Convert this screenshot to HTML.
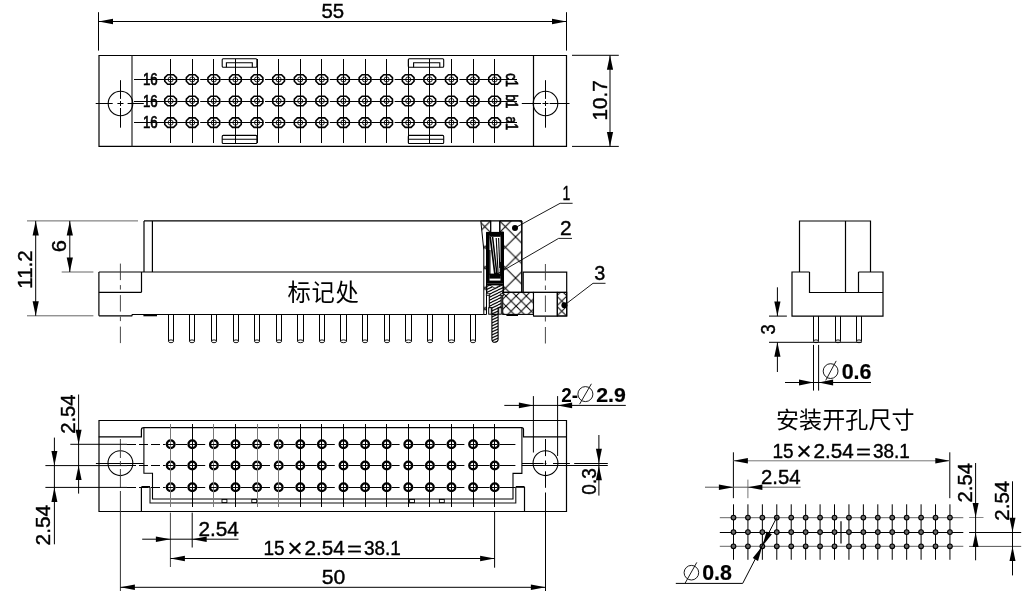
<!DOCTYPE html>
<html><head><meta charset="utf-8"><title>drawing</title>
<style>html,body{margin:0;padding:0;background:#fff;overflow:hidden}svg{display:block;filter:grayscale(1)}text{font-family:"Liberation Sans",sans-serif;fill:#000}</style>
</head><body>
<svg width="1029" height="591" viewBox="0 0 1029 591">
<rect x="0" y="0" width="1029" height="591" fill="#fff"/>
<polyline points="99,55.5 566.5,55.5 566.5,146.4 99,146.4 99,55" stroke="#000" stroke-width="1.2" fill="none" />
<line x1="132" y1="55.5" x2="132" y2="146.4" stroke="#222" stroke-width="1.2" />
<line x1="533.5" y1="55.5" x2="533.5" y2="146.4" stroke="#000" stroke-width="1.2" />
<polygon points="167.65,74.7 173.55,74.7 176.45,77.6 176.45,81.3 173.55,84.2 167.65,84.2 164.75,81.3 164.75,77.6" fill="#fff" stroke="#000" stroke-width="1.6" stroke-linejoin="round"/>
<circle cx="170.6" cy="79.45" r="2.55" stroke="#000" stroke-width="0.85" fill="none"/>
<polygon points="189.25,74.7 195.15,74.7 198.05,77.6 198.05,81.3 195.15,84.2 189.25,84.2 186.35,81.3 186.35,77.6" fill="#fff" stroke="#000" stroke-width="1.6" stroke-linejoin="round"/>
<circle cx="192.2" cy="79.45" r="2.55" stroke="#000" stroke-width="0.85" fill="none"/>
<polygon points="210.85,74.7 216.75,74.7 219.65,77.6 219.65,81.3 216.75,84.2 210.85,84.2 207.95,81.3 207.95,77.6" fill="#fff" stroke="#000" stroke-width="1.6" stroke-linejoin="round"/>
<circle cx="213.8" cy="79.45" r="2.55" stroke="#000" stroke-width="0.85" fill="none"/>
<polygon points="232.45,74.7 238.35,74.7 241.25,77.6 241.25,81.3 238.35,84.2 232.45,84.2 229.55,81.3 229.55,77.6" fill="#fff" stroke="#000" stroke-width="1.6" stroke-linejoin="round"/>
<circle cx="235.4" cy="79.45" r="2.55" stroke="#000" stroke-width="0.85" fill="none"/>
<polygon points="254.05,74.7 259.95,74.7 262.85,77.6 262.85,81.3 259.95,84.2 254.05,84.2 251.15,81.3 251.15,77.6" fill="#fff" stroke="#000" stroke-width="1.6" stroke-linejoin="round"/>
<circle cx="257" cy="79.45" r="2.55" stroke="#000" stroke-width="0.85" fill="none"/>
<polygon points="275.65,74.7 281.55,74.7 284.45,77.6 284.45,81.3 281.55,84.2 275.65,84.2 272.75,81.3 272.75,77.6" fill="#fff" stroke="#000" stroke-width="1.6" stroke-linejoin="round"/>
<circle cx="278.6" cy="79.45" r="2.55" stroke="#000" stroke-width="0.85" fill="none"/>
<polygon points="297.25,74.7 303.15,74.7 306.05,77.6 306.05,81.3 303.15,84.2 297.25,84.2 294.35,81.3 294.35,77.6" fill="#fff" stroke="#000" stroke-width="1.6" stroke-linejoin="round"/>
<circle cx="300.2" cy="79.45" r="2.55" stroke="#000" stroke-width="0.85" fill="none"/>
<polygon points="318.85,74.7 324.75,74.7 327.65,77.6 327.65,81.3 324.75,84.2 318.85,84.2 315.95,81.3 315.95,77.6" fill="#fff" stroke="#000" stroke-width="1.6" stroke-linejoin="round"/>
<circle cx="321.8" cy="79.45" r="2.55" stroke="#000" stroke-width="0.85" fill="none"/>
<polygon points="340.45,74.7 346.35,74.7 349.25,77.6 349.25,81.3 346.35,84.2 340.45,84.2 337.55,81.3 337.55,77.6" fill="#fff" stroke="#000" stroke-width="1.6" stroke-linejoin="round"/>
<circle cx="343.4" cy="79.45" r="2.55" stroke="#000" stroke-width="0.85" fill="none"/>
<polygon points="362.05,74.7 367.95,74.7 370.85,77.6 370.85,81.3 367.95,84.2 362.05,84.2 359.15,81.3 359.15,77.6" fill="#fff" stroke="#000" stroke-width="1.6" stroke-linejoin="round"/>
<circle cx="365" cy="79.45" r="2.55" stroke="#000" stroke-width="0.85" fill="none"/>
<polygon points="383.65,74.7 389.55,74.7 392.45,77.6 392.45,81.3 389.55,84.2 383.65,84.2 380.75,81.3 380.75,77.6" fill="#fff" stroke="#000" stroke-width="1.6" stroke-linejoin="round"/>
<circle cx="386.6" cy="79.45" r="2.55" stroke="#000" stroke-width="0.85" fill="none"/>
<polygon points="405.25,74.7 411.15,74.7 414.05,77.6 414.05,81.3 411.15,84.2 405.25,84.2 402.35,81.3 402.35,77.6" fill="#fff" stroke="#000" stroke-width="1.6" stroke-linejoin="round"/>
<circle cx="408.2" cy="79.45" r="2.55" stroke="#000" stroke-width="0.85" fill="none"/>
<polygon points="426.85,74.7 432.75,74.7 435.65,77.6 435.65,81.3 432.75,84.2 426.85,84.2 423.95,81.3 423.95,77.6" fill="#fff" stroke="#000" stroke-width="1.6" stroke-linejoin="round"/>
<circle cx="429.8" cy="79.45" r="2.55" stroke="#000" stroke-width="0.85" fill="none"/>
<polygon points="448.45,74.7 454.35,74.7 457.25,77.6 457.25,81.3 454.35,84.2 448.45,84.2 445.55,81.3 445.55,77.6" fill="#fff" stroke="#000" stroke-width="1.6" stroke-linejoin="round"/>
<circle cx="451.4" cy="79.45" r="2.55" stroke="#000" stroke-width="0.85" fill="none"/>
<polygon points="470.05,74.7 475.95,74.7 478.85,77.6 478.85,81.3 475.95,84.2 470.05,84.2 467.15,81.3 467.15,77.6" fill="#fff" stroke="#000" stroke-width="1.6" stroke-linejoin="round"/>
<circle cx="473" cy="79.45" r="2.55" stroke="#000" stroke-width="0.85" fill="none"/>
<polygon points="491.65,74.7 497.55,74.7 500.45,77.6 500.45,81.3 497.55,84.2 491.65,84.2 488.75,81.3 488.75,77.6" fill="#fff" stroke="#000" stroke-width="1.6" stroke-linejoin="round"/>
<circle cx="494.6" cy="79.45" r="2.55" stroke="#000" stroke-width="0.85" fill="none"/>
<polygon points="167.65,96.25 173.55,96.25 176.45,99.15 176.45,102.85 173.55,105.75 167.65,105.75 164.75,102.85 164.75,99.15" fill="#fff" stroke="#000" stroke-width="1.6" stroke-linejoin="round"/>
<circle cx="170.6" cy="101" r="2.55" stroke="#000" stroke-width="0.85" fill="none"/>
<polygon points="189.25,96.25 195.15,96.25 198.05,99.15 198.05,102.85 195.15,105.75 189.25,105.75 186.35,102.85 186.35,99.15" fill="#fff" stroke="#000" stroke-width="1.6" stroke-linejoin="round"/>
<circle cx="192.2" cy="101" r="2.55" stroke="#000" stroke-width="0.85" fill="none"/>
<polygon points="210.85,96.25 216.75,96.25 219.65,99.15 219.65,102.85 216.75,105.75 210.85,105.75 207.95,102.85 207.95,99.15" fill="#fff" stroke="#000" stroke-width="1.6" stroke-linejoin="round"/>
<circle cx="213.8" cy="101" r="2.55" stroke="#000" stroke-width="0.85" fill="none"/>
<polygon points="232.45,96.25 238.35,96.25 241.25,99.15 241.25,102.85 238.35,105.75 232.45,105.75 229.55,102.85 229.55,99.15" fill="#fff" stroke="#000" stroke-width="1.6" stroke-linejoin="round"/>
<circle cx="235.4" cy="101" r="2.55" stroke="#000" stroke-width="0.85" fill="none"/>
<polygon points="254.05,96.25 259.95,96.25 262.85,99.15 262.85,102.85 259.95,105.75 254.05,105.75 251.15,102.85 251.15,99.15" fill="#fff" stroke="#000" stroke-width="1.6" stroke-linejoin="round"/>
<circle cx="257" cy="101" r="2.55" stroke="#000" stroke-width="0.85" fill="none"/>
<polygon points="275.65,96.25 281.55,96.25 284.45,99.15 284.45,102.85 281.55,105.75 275.65,105.75 272.75,102.85 272.75,99.15" fill="#fff" stroke="#000" stroke-width="1.6" stroke-linejoin="round"/>
<circle cx="278.6" cy="101" r="2.55" stroke="#000" stroke-width="0.85" fill="none"/>
<polygon points="297.25,96.25 303.15,96.25 306.05,99.15 306.05,102.85 303.15,105.75 297.25,105.75 294.35,102.85 294.35,99.15" fill="#fff" stroke="#000" stroke-width="1.6" stroke-linejoin="round"/>
<circle cx="300.2" cy="101" r="2.55" stroke="#000" stroke-width="0.85" fill="none"/>
<polygon points="318.85,96.25 324.75,96.25 327.65,99.15 327.65,102.85 324.75,105.75 318.85,105.75 315.95,102.85 315.95,99.15" fill="#fff" stroke="#000" stroke-width="1.6" stroke-linejoin="round"/>
<circle cx="321.8" cy="101" r="2.55" stroke="#000" stroke-width="0.85" fill="none"/>
<polygon points="340.45,96.25 346.35,96.25 349.25,99.15 349.25,102.85 346.35,105.75 340.45,105.75 337.55,102.85 337.55,99.15" fill="#fff" stroke="#000" stroke-width="1.6" stroke-linejoin="round"/>
<circle cx="343.4" cy="101" r="2.55" stroke="#000" stroke-width="0.85" fill="none"/>
<polygon points="362.05,96.25 367.95,96.25 370.85,99.15 370.85,102.85 367.95,105.75 362.05,105.75 359.15,102.85 359.15,99.15" fill="#fff" stroke="#000" stroke-width="1.6" stroke-linejoin="round"/>
<circle cx="365" cy="101" r="2.55" stroke="#000" stroke-width="0.85" fill="none"/>
<polygon points="383.65,96.25 389.55,96.25 392.45,99.15 392.45,102.85 389.55,105.75 383.65,105.75 380.75,102.85 380.75,99.15" fill="#fff" stroke="#000" stroke-width="1.6" stroke-linejoin="round"/>
<circle cx="386.6" cy="101" r="2.55" stroke="#000" stroke-width="0.85" fill="none"/>
<polygon points="405.25,96.25 411.15,96.25 414.05,99.15 414.05,102.85 411.15,105.75 405.25,105.75 402.35,102.85 402.35,99.15" fill="#fff" stroke="#000" stroke-width="1.6" stroke-linejoin="round"/>
<circle cx="408.2" cy="101" r="2.55" stroke="#000" stroke-width="0.85" fill="none"/>
<polygon points="426.85,96.25 432.75,96.25 435.65,99.15 435.65,102.85 432.75,105.75 426.85,105.75 423.95,102.85 423.95,99.15" fill="#fff" stroke="#000" stroke-width="1.6" stroke-linejoin="round"/>
<circle cx="429.8" cy="101" r="2.55" stroke="#000" stroke-width="0.85" fill="none"/>
<polygon points="448.45,96.25 454.35,96.25 457.25,99.15 457.25,102.85 454.35,105.75 448.45,105.75 445.55,102.85 445.55,99.15" fill="#fff" stroke="#000" stroke-width="1.6" stroke-linejoin="round"/>
<circle cx="451.4" cy="101" r="2.55" stroke="#000" stroke-width="0.85" fill="none"/>
<polygon points="470.05,96.25 475.95,96.25 478.85,99.15 478.85,102.85 475.95,105.75 470.05,105.75 467.15,102.85 467.15,99.15" fill="#fff" stroke="#000" stroke-width="1.6" stroke-linejoin="round"/>
<circle cx="473" cy="101" r="2.55" stroke="#000" stroke-width="0.85" fill="none"/>
<polygon points="491.65,96.25 497.55,96.25 500.45,99.15 500.45,102.85 497.55,105.75 491.65,105.75 488.75,102.85 488.75,99.15" fill="#fff" stroke="#000" stroke-width="1.6" stroke-linejoin="round"/>
<circle cx="494.6" cy="101" r="2.55" stroke="#000" stroke-width="0.85" fill="none"/>
<polygon points="167.65,117.85 173.55,117.85 176.45,120.75 176.45,124.45 173.55,127.35 167.65,127.35 164.75,124.45 164.75,120.75" fill="#fff" stroke="#000" stroke-width="1.6" stroke-linejoin="round"/>
<circle cx="170.6" cy="122.6" r="2.55" stroke="#000" stroke-width="0.85" fill="none"/>
<polygon points="189.25,117.85 195.15,117.85 198.05,120.75 198.05,124.45 195.15,127.35 189.25,127.35 186.35,124.45 186.35,120.75" fill="#fff" stroke="#000" stroke-width="1.6" stroke-linejoin="round"/>
<circle cx="192.2" cy="122.6" r="2.55" stroke="#000" stroke-width="0.85" fill="none"/>
<polygon points="210.85,117.85 216.75,117.85 219.65,120.75 219.65,124.45 216.75,127.35 210.85,127.35 207.95,124.45 207.95,120.75" fill="#fff" stroke="#000" stroke-width="1.6" stroke-linejoin="round"/>
<circle cx="213.8" cy="122.6" r="2.55" stroke="#000" stroke-width="0.85" fill="none"/>
<polygon points="232.45,117.85 238.35,117.85 241.25,120.75 241.25,124.45 238.35,127.35 232.45,127.35 229.55,124.45 229.55,120.75" fill="#fff" stroke="#000" stroke-width="1.6" stroke-linejoin="round"/>
<circle cx="235.4" cy="122.6" r="2.55" stroke="#000" stroke-width="0.85" fill="none"/>
<polygon points="254.05,117.85 259.95,117.85 262.85,120.75 262.85,124.45 259.95,127.35 254.05,127.35 251.15,124.45 251.15,120.75" fill="#fff" stroke="#000" stroke-width="1.6" stroke-linejoin="round"/>
<circle cx="257" cy="122.6" r="2.55" stroke="#000" stroke-width="0.85" fill="none"/>
<polygon points="275.65,117.85 281.55,117.85 284.45,120.75 284.45,124.45 281.55,127.35 275.65,127.35 272.75,124.45 272.75,120.75" fill="#fff" stroke="#000" stroke-width="1.6" stroke-linejoin="round"/>
<circle cx="278.6" cy="122.6" r="2.55" stroke="#000" stroke-width="0.85" fill="none"/>
<polygon points="297.25,117.85 303.15,117.85 306.05,120.75 306.05,124.45 303.15,127.35 297.25,127.35 294.35,124.45 294.35,120.75" fill="#fff" stroke="#000" stroke-width="1.6" stroke-linejoin="round"/>
<circle cx="300.2" cy="122.6" r="2.55" stroke="#000" stroke-width="0.85" fill="none"/>
<polygon points="318.85,117.85 324.75,117.85 327.65,120.75 327.65,124.45 324.75,127.35 318.85,127.35 315.95,124.45 315.95,120.75" fill="#fff" stroke="#000" stroke-width="1.6" stroke-linejoin="round"/>
<circle cx="321.8" cy="122.6" r="2.55" stroke="#000" stroke-width="0.85" fill="none"/>
<polygon points="340.45,117.85 346.35,117.85 349.25,120.75 349.25,124.45 346.35,127.35 340.45,127.35 337.55,124.45 337.55,120.75" fill="#fff" stroke="#000" stroke-width="1.6" stroke-linejoin="round"/>
<circle cx="343.4" cy="122.6" r="2.55" stroke="#000" stroke-width="0.85" fill="none"/>
<polygon points="362.05,117.85 367.95,117.85 370.85,120.75 370.85,124.45 367.95,127.35 362.05,127.35 359.15,124.45 359.15,120.75" fill="#fff" stroke="#000" stroke-width="1.6" stroke-linejoin="round"/>
<circle cx="365" cy="122.6" r="2.55" stroke="#000" stroke-width="0.85" fill="none"/>
<polygon points="383.65,117.85 389.55,117.85 392.45,120.75 392.45,124.45 389.55,127.35 383.65,127.35 380.75,124.45 380.75,120.75" fill="#fff" stroke="#000" stroke-width="1.6" stroke-linejoin="round"/>
<circle cx="386.6" cy="122.6" r="2.55" stroke="#000" stroke-width="0.85" fill="none"/>
<polygon points="405.25,117.85 411.15,117.85 414.05,120.75 414.05,124.45 411.15,127.35 405.25,127.35 402.35,124.45 402.35,120.75" fill="#fff" stroke="#000" stroke-width="1.6" stroke-linejoin="round"/>
<circle cx="408.2" cy="122.6" r="2.55" stroke="#000" stroke-width="0.85" fill="none"/>
<polygon points="426.85,117.85 432.75,117.85 435.65,120.75 435.65,124.45 432.75,127.35 426.85,127.35 423.95,124.45 423.95,120.75" fill="#fff" stroke="#000" stroke-width="1.6" stroke-linejoin="round"/>
<circle cx="429.8" cy="122.6" r="2.55" stroke="#000" stroke-width="0.85" fill="none"/>
<polygon points="448.45,117.85 454.35,117.85 457.25,120.75 457.25,124.45 454.35,127.35 448.45,127.35 445.55,124.45 445.55,120.75" fill="#fff" stroke="#000" stroke-width="1.6" stroke-linejoin="round"/>
<circle cx="451.4" cy="122.6" r="2.55" stroke="#000" stroke-width="0.85" fill="none"/>
<polygon points="470.05,117.85 475.95,117.85 478.85,120.75 478.85,124.45 475.95,127.35 470.05,127.35 467.15,124.45 467.15,120.75" fill="#fff" stroke="#000" stroke-width="1.6" stroke-linejoin="round"/>
<circle cx="473" cy="122.6" r="2.55" stroke="#000" stroke-width="0.85" fill="none"/>
<polygon points="491.65,117.85 497.55,117.85 500.45,120.75 500.45,124.45 497.55,127.35 491.65,127.35 488.75,124.45 488.75,120.75" fill="#fff" stroke="#000" stroke-width="1.6" stroke-linejoin="round"/>
<circle cx="494.6" cy="122.6" r="2.55" stroke="#000" stroke-width="0.85" fill="none"/>
<line x1="170.5" y1="59" x2="170.5" y2="143" stroke="#000" stroke-width="1" />
<line x1="192.5" y1="59" x2="192.5" y2="143" stroke="#000" stroke-width="1" />
<line x1="213.5" y1="59" x2="213.5" y2="143" stroke="#000" stroke-width="1" />
<line x1="235.5" y1="59" x2="235.5" y2="143" stroke="#000" stroke-width="1" />
<line x1="257.5" y1="59" x2="257.5" y2="143" stroke="#000" stroke-width="1" />
<line x1="278.5" y1="59" x2="278.5" y2="143" stroke="#000" stroke-width="1" />
<line x1="300.5" y1="59" x2="300.5" y2="143" stroke="#000" stroke-width="1" />
<line x1="321.5" y1="59" x2="321.5" y2="143" stroke="#000" stroke-width="1" />
<line x1="343.5" y1="59" x2="343.5" y2="143" stroke="#000" stroke-width="1" />
<line x1="365.5" y1="59" x2="365.5" y2="143" stroke="#000" stroke-width="1" />
<line x1="386.5" y1="59" x2="386.5" y2="143" stroke="#000" stroke-width="1" />
<line x1="408.5" y1="59" x2="408.5" y2="143" stroke="#000" stroke-width="1" />
<line x1="429.5" y1="59" x2="429.5" y2="143" stroke="#000" stroke-width="1" />
<line x1="451.5" y1="59" x2="451.5" y2="143" stroke="#000" stroke-width="1" />
<line x1="473.5" y1="59" x2="473.5" y2="143" stroke="#000" stroke-width="1" />
<line x1="494.5" y1="59" x2="494.5" y2="143" stroke="#000" stroke-width="1" />
<line x1="134" y1="79.5" x2="170.5" y2="79.5" stroke="#000" stroke-width="1" />
<line x1="164.6" y1="79.5" x2="177.2" y2="79.5" stroke="#000" stroke-width="1" />
<line x1="177.2" y1="79.5" x2="186.2" y2="79.5" stroke="#000" stroke-width="1" />
<line x1="186.2" y1="79.5" x2="198.8" y2="79.5" stroke="#000" stroke-width="1" />
<line x1="200.2" y1="79.5" x2="207.8" y2="79.5" stroke="#000" stroke-width="1" />
<line x1="207.8" y1="79.5" x2="220.4" y2="79.5" stroke="#000" stroke-width="1" />
<line x1="220.4" y1="79.5" x2="229.4" y2="79.5" stroke="#000" stroke-width="1" />
<line x1="229.4" y1="79.5" x2="242" y2="79.5" stroke="#000" stroke-width="1" />
<line x1="242" y1="79.5" x2="251" y2="79.5" stroke="#000" stroke-width="1" />
<line x1="251" y1="79.5" x2="263.6" y2="79.5" stroke="#000" stroke-width="1" />
<line x1="265" y1="79.5" x2="272.6" y2="79.5" stroke="#000" stroke-width="1" />
<line x1="272.6" y1="79.5" x2="285.2" y2="79.5" stroke="#000" stroke-width="1" />
<line x1="285.2" y1="79.5" x2="294.2" y2="79.5" stroke="#000" stroke-width="1" />
<line x1="294.2" y1="79.5" x2="306.8" y2="79.5" stroke="#000" stroke-width="1" />
<line x1="306.8" y1="79.5" x2="315.8" y2="79.5" stroke="#000" stroke-width="1" />
<line x1="315.8" y1="79.5" x2="328.4" y2="79.5" stroke="#000" stroke-width="1" />
<line x1="329.8" y1="79.5" x2="337.4" y2="79.5" stroke="#000" stroke-width="1" />
<line x1="337.4" y1="79.5" x2="350" y2="79.5" stroke="#000" stroke-width="1" />
<line x1="350" y1="79.5" x2="359" y2="79.5" stroke="#000" stroke-width="1" />
<line x1="359" y1="79.5" x2="371.6" y2="79.5" stroke="#000" stroke-width="1" />
<line x1="371.6" y1="79.5" x2="380.6" y2="79.5" stroke="#000" stroke-width="1" />
<line x1="380.6" y1="79.5" x2="393.2" y2="79.5" stroke="#000" stroke-width="1" />
<line x1="394.6" y1="79.5" x2="402.2" y2="79.5" stroke="#000" stroke-width="1" />
<line x1="402.2" y1="79.5" x2="414.8" y2="79.5" stroke="#000" stroke-width="1" />
<line x1="414.8" y1="79.5" x2="423.8" y2="79.5" stroke="#000" stroke-width="1" />
<line x1="423.8" y1="79.5" x2="436.4" y2="79.5" stroke="#000" stroke-width="1" />
<line x1="436.4" y1="79.5" x2="445.4" y2="79.5" stroke="#000" stroke-width="1" />
<line x1="445.4" y1="79.5" x2="458" y2="79.5" stroke="#000" stroke-width="1" />
<line x1="459.4" y1="79.5" x2="467" y2="79.5" stroke="#000" stroke-width="1" />
<line x1="467" y1="79.5" x2="479.6" y2="79.5" stroke="#000" stroke-width="1" />
<line x1="479.6" y1="79.5" x2="488.6" y2="79.5" stroke="#000" stroke-width="1" />
<line x1="488.6" y1="79.5" x2="501.2" y2="79.5" stroke="#000" stroke-width="1" />
<line x1="494.6" y1="79.5" x2="517" y2="79.5" stroke="#000" stroke-width="1" />
<line x1="134" y1="101.5" x2="170.5" y2="101.5" stroke="#000" stroke-width="1" />
<line x1="164.6" y1="101.5" x2="177.2" y2="101.5" stroke="#000" stroke-width="1" />
<line x1="177.2" y1="101.5" x2="186.2" y2="101.5" stroke="#000" stroke-width="1" />
<line x1="186.2" y1="101.5" x2="198.8" y2="101.5" stroke="#000" stroke-width="1" />
<line x1="200.2" y1="101.5" x2="207.8" y2="101.5" stroke="#000" stroke-width="1" />
<line x1="207.8" y1="101.5" x2="220.4" y2="101.5" stroke="#000" stroke-width="1" />
<line x1="220.4" y1="101.5" x2="229.4" y2="101.5" stroke="#000" stroke-width="1" />
<line x1="229.4" y1="101.5" x2="242" y2="101.5" stroke="#000" stroke-width="1" />
<line x1="242" y1="101.5" x2="251" y2="101.5" stroke="#000" stroke-width="1" />
<line x1="251" y1="101.5" x2="263.6" y2="101.5" stroke="#000" stroke-width="1" />
<line x1="265" y1="101.5" x2="272.6" y2="101.5" stroke="#000" stroke-width="1" />
<line x1="272.6" y1="101.5" x2="285.2" y2="101.5" stroke="#000" stroke-width="1" />
<line x1="285.2" y1="101.5" x2="294.2" y2="101.5" stroke="#000" stroke-width="1" />
<line x1="294.2" y1="101.5" x2="306.8" y2="101.5" stroke="#000" stroke-width="1" />
<line x1="306.8" y1="101.5" x2="315.8" y2="101.5" stroke="#000" stroke-width="1" />
<line x1="315.8" y1="101.5" x2="328.4" y2="101.5" stroke="#000" stroke-width="1" />
<line x1="329.8" y1="101.5" x2="337.4" y2="101.5" stroke="#000" stroke-width="1" />
<line x1="337.4" y1="101.5" x2="350" y2="101.5" stroke="#000" stroke-width="1" />
<line x1="350" y1="101.5" x2="359" y2="101.5" stroke="#000" stroke-width="1" />
<line x1="359" y1="101.5" x2="371.6" y2="101.5" stroke="#000" stroke-width="1" />
<line x1="371.6" y1="101.5" x2="380.6" y2="101.5" stroke="#000" stroke-width="1" />
<line x1="380.6" y1="101.5" x2="393.2" y2="101.5" stroke="#000" stroke-width="1" />
<line x1="394.6" y1="101.5" x2="402.2" y2="101.5" stroke="#000" stroke-width="1" />
<line x1="402.2" y1="101.5" x2="414.8" y2="101.5" stroke="#000" stroke-width="1" />
<line x1="414.8" y1="101.5" x2="423.8" y2="101.5" stroke="#000" stroke-width="1" />
<line x1="423.8" y1="101.5" x2="436.4" y2="101.5" stroke="#000" stroke-width="1" />
<line x1="436.4" y1="101.5" x2="445.4" y2="101.5" stroke="#000" stroke-width="1" />
<line x1="445.4" y1="101.5" x2="458" y2="101.5" stroke="#000" stroke-width="1" />
<line x1="459.4" y1="101.5" x2="467" y2="101.5" stroke="#000" stroke-width="1" />
<line x1="467" y1="101.5" x2="479.6" y2="101.5" stroke="#000" stroke-width="1" />
<line x1="479.6" y1="101.5" x2="488.6" y2="101.5" stroke="#000" stroke-width="1" />
<line x1="488.6" y1="101.5" x2="501.2" y2="101.5" stroke="#000" stroke-width="1" />
<line x1="494.6" y1="101.5" x2="517" y2="101.5" stroke="#000" stroke-width="1" />
<line x1="134" y1="122.5" x2="170.5" y2="122.5" stroke="#000" stroke-width="1" />
<line x1="164.6" y1="122.5" x2="177.2" y2="122.5" stroke="#000" stroke-width="1" />
<line x1="177.2" y1="122.5" x2="186.2" y2="122.5" stroke="#000" stroke-width="1" />
<line x1="186.2" y1="122.5" x2="198.8" y2="122.5" stroke="#000" stroke-width="1" />
<line x1="200.2" y1="122.5" x2="207.8" y2="122.5" stroke="#000" stroke-width="1" />
<line x1="207.8" y1="122.5" x2="220.4" y2="122.5" stroke="#000" stroke-width="1" />
<line x1="220.4" y1="122.5" x2="229.4" y2="122.5" stroke="#000" stroke-width="1" />
<line x1="229.4" y1="122.5" x2="242" y2="122.5" stroke="#000" stroke-width="1" />
<line x1="242" y1="122.5" x2="251" y2="122.5" stroke="#000" stroke-width="1" />
<line x1="251" y1="122.5" x2="263.6" y2="122.5" stroke="#000" stroke-width="1" />
<line x1="265" y1="122.5" x2="272.6" y2="122.5" stroke="#000" stroke-width="1" />
<line x1="272.6" y1="122.5" x2="285.2" y2="122.5" stroke="#000" stroke-width="1" />
<line x1="285.2" y1="122.5" x2="294.2" y2="122.5" stroke="#000" stroke-width="1" />
<line x1="294.2" y1="122.5" x2="306.8" y2="122.5" stroke="#000" stroke-width="1" />
<line x1="306.8" y1="122.5" x2="315.8" y2="122.5" stroke="#000" stroke-width="1" />
<line x1="315.8" y1="122.5" x2="328.4" y2="122.5" stroke="#000" stroke-width="1" />
<line x1="329.8" y1="122.5" x2="337.4" y2="122.5" stroke="#000" stroke-width="1" />
<line x1="337.4" y1="122.5" x2="350" y2="122.5" stroke="#000" stroke-width="1" />
<line x1="350" y1="122.5" x2="359" y2="122.5" stroke="#000" stroke-width="1" />
<line x1="359" y1="122.5" x2="371.6" y2="122.5" stroke="#000" stroke-width="1" />
<line x1="371.6" y1="122.5" x2="380.6" y2="122.5" stroke="#000" stroke-width="1" />
<line x1="380.6" y1="122.5" x2="393.2" y2="122.5" stroke="#000" stroke-width="1" />
<line x1="394.6" y1="122.5" x2="402.2" y2="122.5" stroke="#000" stroke-width="1" />
<line x1="402.2" y1="122.5" x2="414.8" y2="122.5" stroke="#000" stroke-width="1" />
<line x1="414.8" y1="122.5" x2="423.8" y2="122.5" stroke="#000" stroke-width="1" />
<line x1="423.8" y1="122.5" x2="436.4" y2="122.5" stroke="#000" stroke-width="1" />
<line x1="436.4" y1="122.5" x2="445.4" y2="122.5" stroke="#000" stroke-width="1" />
<line x1="445.4" y1="122.5" x2="458" y2="122.5" stroke="#000" stroke-width="1" />
<line x1="459.4" y1="122.5" x2="467" y2="122.5" stroke="#000" stroke-width="1" />
<line x1="467" y1="122.5" x2="479.6" y2="122.5" stroke="#000" stroke-width="1" />
<line x1="479.6" y1="122.5" x2="488.6" y2="122.5" stroke="#000" stroke-width="1" />
<line x1="488.6" y1="122.5" x2="501.2" y2="122.5" stroke="#000" stroke-width="1" />
<line x1="494.6" y1="122.5" x2="517" y2="122.5" stroke="#000" stroke-width="1" />
<circle cx="120.5" cy="103.5" r="12.3" stroke="#000" stroke-width="1.1" fill="none"/>
<line x1="120.5" y1="80.2" x2="120.5" y2="98.9" stroke="#000" stroke-width="1" />
<line x1="120.5" y1="101" x2="120.5" y2="106" stroke="#000" stroke-width="1" />
<line x1="120.5" y1="108" x2="120.5" y2="127.7" stroke="#000" stroke-width="1" />
<circle cx="545.5" cy="103.5" r="12.3" stroke="#000" stroke-width="1.1" fill="none"/>
<line x1="545.5" y1="80.2" x2="545.5" y2="98.9" stroke="#000" stroke-width="1" />
<line x1="545.5" y1="101" x2="545.5" y2="106" stroke="#000" stroke-width="1" />
<line x1="545.5" y1="108" x2="545.5" y2="127.7" stroke="#000" stroke-width="1" />
<line x1="95.7" y1="103.5" x2="112.7" y2="103.5" stroke="#000" stroke-width="1" />
<line x1="117.4" y1="103.5" x2="123.5" y2="103.5" stroke="#000" stroke-width="1" />
<line x1="127.6" y1="103.5" x2="143.8" y2="103.5" stroke="#000" stroke-width="1" />
<line x1="521.8" y1="103.5" x2="541" y2="103.5" stroke="#000" stroke-width="1" />
<line x1="542.5" y1="103.5" x2="548.5" y2="103.5" stroke="#000" stroke-width="1" />
<line x1="549.6" y1="103.5" x2="569.5" y2="103.5" stroke="#000" stroke-width="1" />
<rect x="222.2" y="58.8" width="34.7" height="8.4" rx="1" stroke="#000" stroke-width="1.1" fill="none" />
<polyline points="226.4,67.2 226.4,62.7 252.3,62.7 252.3,67.2" stroke="#000" stroke-width="1.1" fill="none" />
<rect x="222.2" y="135.4" width="34.7" height="8.1" rx="1" stroke="#000" stroke-width="1.1" fill="none" />
<line x1="222.2" y1="139.3" x2="256.9" y2="139.3" stroke="#000" stroke-width="1.1" />
<rect x="408.3" y="58.8" width="35.4" height="8.4" rx="1" stroke="#000" stroke-width="1.1" fill="none" />
<polyline points="413.6,67.2 413.6,62.7 439.8,62.7 439.8,67.2" stroke="#000" stroke-width="1.1" fill="none" />
<rect x="408.3" y="135.4" width="35.4" height="8.1" rx="1" stroke="#000" stroke-width="1.1" fill="none" />
<line x1="408.3" y1="139.3" x2="443.7" y2="139.3" stroke="#000" stroke-width="1.1" />
<line x1="98.5" y1="12.2" x2="98.5" y2="50.6" stroke="#000" stroke-width="1" />
<line x1="566.5" y1="12.2" x2="566.5" y2="50.6" stroke="#000" stroke-width="1" />
<line x1="98.5" y1="21.5" x2="566.5" y2="21.5" stroke="#000" stroke-width="1" />
<polygon points="98.5,21.5 113,18.7 113,24.3" fill="#000"/>
<polygon points="566.5,21.5 552,24.3 552,18.7" fill="#000"/>
<line x1="572" y1="55.3" x2="618.8" y2="55.3" stroke="#000" stroke-width="1" />
<line x1="572" y1="146.4" x2="618.8" y2="146.4" stroke="#000" stroke-width="1" />
<line x1="610" y1="55.3" x2="610" y2="146.4" stroke="#000" stroke-width="1" />
<polygon points="610,55.3 613.1,69.8 606.9,69.8" fill="#000"/>
<polygon points="610,146.4 606.9,131.9 613.1,131.9" fill="#000"/>
<line x1="144" y1="220.9" x2="521.8" y2="220.9" stroke="#000" stroke-width="1.2" />
<line x1="144" y1="220.9" x2="144" y2="272" stroke="#000" stroke-width="1.2" />
<line x1="152.4" y1="220.9" x2="152.4" y2="272" stroke="#000" stroke-width="1.2" />
<line x1="98.9" y1="272" x2="481.9" y2="272" stroke="#000" stroke-width="1.2" />
<line x1="98.9" y1="272" x2="98.9" y2="315.8" stroke="#000" stroke-width="1.2" />
<line x1="98.9" y1="292.3" x2="141.5" y2="292.3" stroke="#000" stroke-width="1.2" />
<line x1="141.5" y1="272" x2="141.5" y2="292.3" stroke="#000" stroke-width="1.2" />
<polyline points="98.9,315.8 131.8,315.8 132.3,314.5 483.8,314.5" stroke="#000" stroke-width="1.2" fill="none" />
<line x1="143.4" y1="315.4" x2="157" y2="315.4" stroke="#000" stroke-width="1.8" />
<line x1="168.5" y1="314.5" x2="168.5" y2="341.3" stroke="#000" stroke-width="1" />
<line x1="173.5" y1="314.5" x2="173.5" y2="341.3" stroke="#000" stroke-width="1" />
<ellipse cx="171" cy="341.3" rx="2.5" ry="1.4" fill="#fff" stroke="#000" stroke-width="0.9"/>
<line x1="189.5" y1="314.5" x2="189.5" y2="341.3" stroke="#000" stroke-width="1" />
<line x1="194.5" y1="314.5" x2="194.5" y2="341.3" stroke="#000" stroke-width="1" />
<ellipse cx="192" cy="341.3" rx="2.5" ry="1.4" fill="#fff" stroke="#000" stroke-width="0.9"/>
<line x1="211.5" y1="314.5" x2="211.5" y2="341.3" stroke="#000" stroke-width="1" />
<line x1="216.5" y1="314.5" x2="216.5" y2="341.3" stroke="#000" stroke-width="1" />
<ellipse cx="214" cy="341.3" rx="2.5" ry="1.4" fill="#fff" stroke="#000" stroke-width="0.9"/>
<line x1="233.5" y1="314.5" x2="233.5" y2="341.3" stroke="#000" stroke-width="1" />
<line x1="238.5" y1="314.5" x2="238.5" y2="341.3" stroke="#000" stroke-width="1" />
<ellipse cx="236" cy="341.3" rx="2.5" ry="1.4" fill="#fff" stroke="#000" stroke-width="0.9"/>
<line x1="254.5" y1="314.5" x2="254.5" y2="341.3" stroke="#000" stroke-width="1" />
<line x1="259.5" y1="314.5" x2="259.5" y2="341.3" stroke="#000" stroke-width="1" />
<ellipse cx="257" cy="341.3" rx="2.5" ry="1.4" fill="#fff" stroke="#000" stroke-width="0.9"/>
<line x1="276.5" y1="314.5" x2="276.5" y2="341.3" stroke="#000" stroke-width="1" />
<line x1="281.5" y1="314.5" x2="281.5" y2="341.3" stroke="#000" stroke-width="1" />
<ellipse cx="279" cy="341.3" rx="2.5" ry="1.4" fill="#fff" stroke="#000" stroke-width="0.9"/>
<line x1="297.5" y1="314.5" x2="297.5" y2="341.3" stroke="#000" stroke-width="1" />
<line x1="303.5" y1="314.5" x2="303.5" y2="341.3" stroke="#000" stroke-width="1" />
<ellipse cx="300.5" cy="341.3" rx="3" ry="1.4" fill="#fff" stroke="#000" stroke-width="0.9"/>
<line x1="319.5" y1="314.5" x2="319.5" y2="341.3" stroke="#000" stroke-width="1" />
<line x1="324.5" y1="314.5" x2="324.5" y2="341.3" stroke="#000" stroke-width="1" />
<ellipse cx="322" cy="341.3" rx="2.5" ry="1.4" fill="#fff" stroke="#000" stroke-width="0.9"/>
<line x1="340.5" y1="314.5" x2="340.5" y2="341.3" stroke="#000" stroke-width="1" />
<line x1="346.5" y1="314.5" x2="346.5" y2="341.3" stroke="#000" stroke-width="1" />
<ellipse cx="343.5" cy="341.3" rx="3" ry="1.4" fill="#fff" stroke="#000" stroke-width="0.9"/>
<line x1="362.5" y1="314.5" x2="362.5" y2="341.3" stroke="#000" stroke-width="1" />
<line x1="367.5" y1="314.5" x2="367.5" y2="341.3" stroke="#000" stroke-width="1" />
<ellipse cx="365" cy="341.3" rx="2.5" ry="1.4" fill="#fff" stroke="#000" stroke-width="0.9"/>
<line x1="384.5" y1="314.5" x2="384.5" y2="341.3" stroke="#000" stroke-width="1" />
<line x1="389.5" y1="314.5" x2="389.5" y2="341.3" stroke="#000" stroke-width="1" />
<ellipse cx="387" cy="341.3" rx="2.5" ry="1.4" fill="#fff" stroke="#000" stroke-width="0.9"/>
<line x1="405.5" y1="314.5" x2="405.5" y2="341.3" stroke="#000" stroke-width="1" />
<line x1="411.5" y1="314.5" x2="411.5" y2="341.3" stroke="#000" stroke-width="1" />
<ellipse cx="408.5" cy="341.3" rx="3" ry="1.4" fill="#fff" stroke="#000" stroke-width="0.9"/>
<line x1="427.5" y1="314.5" x2="427.5" y2="341.3" stroke="#000" stroke-width="1" />
<line x1="432.5" y1="314.5" x2="432.5" y2="341.3" stroke="#000" stroke-width="1" />
<ellipse cx="430" cy="341.3" rx="2.5" ry="1.4" fill="#fff" stroke="#000" stroke-width="0.9"/>
<line x1="448.5" y1="314.5" x2="448.5" y2="341.3" stroke="#000" stroke-width="1" />
<line x1="454.5" y1="314.5" x2="454.5" y2="341.3" stroke="#000" stroke-width="1" />
<ellipse cx="451.5" cy="341.3" rx="3" ry="1.4" fill="#fff" stroke="#000" stroke-width="0.9"/>
<line x1="470.5" y1="314.5" x2="470.5" y2="341.3" stroke="#000" stroke-width="1" />
<line x1="475.5" y1="314.5" x2="475.5" y2="341.3" stroke="#000" stroke-width="1" />
<ellipse cx="473" cy="341.3" rx="2.5" ry="1.4" fill="#fff" stroke="#000" stroke-width="0.9"/>
<line x1="120.4" y1="263.6" x2="120.4" y2="344.3" stroke="#333" stroke-width="0.9" stroke-dasharray="16.5 5 4.5 5.5"/>
<line x1="27" y1="220.9" x2="138" y2="220.9" stroke="#666" stroke-width="1" />
<line x1="27" y1="315.8" x2="93.4" y2="315.8" stroke="#666" stroke-width="1" />
<line x1="61.7" y1="272" x2="93.4" y2="272" stroke="#666" stroke-width="1" />
<line x1="35.7" y1="220.9" x2="35.7" y2="315.8" stroke="#000" stroke-width="1" />
<polygon points="35.7,220.9 38.8,235.4 32.6,235.4" fill="#000"/>
<polygon points="35.7,315.8 32.6,301.3 38.8,301.3" fill="#000"/>
<line x1="69.8" y1="220.9" x2="69.8" y2="272" stroke="#000" stroke-width="1" />
<polygon points="69.8,220.9 72.9,235.4 66.7,235.4" fill="#000"/>
<polygon points="69.8,272 66.7,257.5 72.9,257.5" fill="#000"/>
<defs>
<pattern id="hA" width="20.5" height="20.5" patternUnits="userSpaceOnUse" x="495.07" y="216.45"><path d="M0 0L20.5 20.5M20.5 0L0 20.5" stroke="#000" stroke-width="1.05" fill="none"/></pattern>
<pattern id="hB" width="10.15" height="10.15" patternUnits="userSpaceOnUse" x="495.81" y="285.81"><path d="M0 0L10.15 10.15M10.15 0L0 10.15" stroke="#000" stroke-width="1.0" fill="none"/></pattern>
<pattern id="hD" width="6.2" height="3" patternUnits="userSpaceOnUse" x="491.9" y="284"><path d="M-1 3.4L7.2 -0.4M-1 6.4L7.2 2.6M-1 0.4L7.2 -3.4" stroke="#000" stroke-width="1.15" fill="none"/></pattern>
</defs>
<polygon points="500,220.9 521.8,220.9 521.8,292.4 503.5,292.4 503.5,232 500,232" fill="url(#hA)" stroke="#000" stroke-width="1"/>
<polygon points="480.8,220.9 490.7,220.9 490.7,232.5 486.5,232.5 486.5,314.5 483.8,314.5 483.8,250" fill="url(#hA)" stroke="#000" stroke-width="1"/>
<line x1="490.7" y1="220.9" x2="490.7" y2="232.5" stroke="#000" stroke-width="1" />
<line x1="499.6" y1="220.9" x2="499.6" y2="232.5" stroke="#000" stroke-width="1" />
<polyline points="521.8,220.9 521.8,292.4" stroke="#000" stroke-width="1.2" fill="none" />
<polyline points="523.2,292.4 523.2,272.1 566.7,272.1 566.7,316 533.5,316" stroke="#000" stroke-width="1.2" fill="none" />
<line x1="502.7" y1="292.4" x2="566.7" y2="292.4" stroke="#000" stroke-width="1.2" />
<rect x="502.7" y="292.4" width="30.8" height="22" rx="0" stroke="#000" stroke-width="1.1" fill="url(#hB)" />
<rect x="533.5" y="292.4" width="23.8" height="23.6" rx="0" stroke="#000" stroke-width="1.1" fill="#fff" />
<rect x="557.3" y="292.4" width="9.4" height="23.6" rx="0" stroke="#000" stroke-width="1.1" fill="url(#hB)" />
<line x1="506.4" y1="315.2" x2="518" y2="315.2" stroke="#000" stroke-width="1.6" />
<rect x="487.9" y="233.5" width="14.2" height="48.7" rx="0" stroke="#000" stroke-width="3.2" fill="#fff" />
<rect x="489.3" y="234.8" width="11.4" height="2" rx="0" stroke="#000" stroke-width="0" fill="#000" />
<line x1="490.2" y1="237" x2="495" y2="275" stroke="#000" stroke-width="1.7" />
<line x1="492.6" y1="237" x2="497" y2="275" stroke="#000" stroke-width="1.5" />
<line x1="496.2" y1="238" x2="498.2" y2="275" stroke="#000" stroke-width="1.1" />
<line x1="498.6" y1="238" x2="499.8" y2="268" stroke="#000" stroke-width="1.1" />
<line x1="489.9" y1="250" x2="489.9" y2="275" stroke="#000" stroke-width="1.2" />
<line x1="500.3" y1="262" x2="500.3" y2="276" stroke="#000" stroke-width="1.2" />
<rect x="489.3" y="273.6" width="11.4" height="5" rx="0" stroke="#000" stroke-width="0" fill="#000" />
<polygon points="486.8,284.6 503,284.6 503,294.6 501.2,294.6 501.2,307.7 498.1,307.7 498.1,314.4 491.9,314.4 491.9,307.7 489.3,307.7 489.3,294.6 486.8,294.6" fill="url(#hD)" stroke="#000" stroke-width="1.1"/>
<polygon points="489.5,285 500.5,285 495,288.2" fill="#fff" stroke="#000" stroke-width="0.8"/>
<rect x="488.7" y="307.7" width="2.6" height="6.5" rx="0" stroke="#000" stroke-width="1" fill="#fff" />
<rect x="498.7" y="307.7" width="2.6" height="6.5" rx="0" stroke="#000" stroke-width="1" fill="#fff" />
<rect x="486.3" y="293.8" width="3.5" height="1.5" rx="0" stroke="#000" stroke-width="0.8" fill="#fff" />
<rect x="500.6" y="293.8" width="3" height="1.5" rx="0" stroke="#000" stroke-width="0.8" fill="#fff" />
<path d="M491.9 314.4 V339.2 a3.1 3.1 0 0 0 6.2 0 V314.4" fill="url(#hD)" stroke="#000" stroke-width="1.1"/>
<line x1="545.4" y1="264" x2="545.4" y2="344" stroke="#333" stroke-width="0.9" stroke-dasharray="16.5 5 4.5 5.5"/>
<circle cx="515" cy="227.9" r="3" stroke="#000" stroke-width="0" fill="#000"/>
<line x1="515" y1="227.9" x2="560.1" y2="203.3" stroke="#000" stroke-width="0.9" />
<line x1="560.1" y1="203.3" x2="572.6" y2="203.3" stroke="#000" stroke-width="0.9" />
<circle cx="496.1" cy="274.6" r="2.1" stroke="#000" stroke-width="0" fill="#000"/>
<line x1="496.1" y1="274.6" x2="558.6" y2="238.4" stroke="#000" stroke-width="0.9" />
<line x1="558.6" y1="238.4" x2="572" y2="238.4" stroke="#000" stroke-width="0.9" />
<circle cx="564.4" cy="305.2" r="3" stroke="#000" stroke-width="0" fill="#000"/>
<line x1="564.4" y1="305.2" x2="593" y2="283.3" stroke="#000" stroke-width="0.9" />
<line x1="593" y1="283.3" x2="605.5" y2="283.3" stroke="#000" stroke-width="0.9" />
<polyline points="799.5,272 799.5,221 870.5,221 870.5,272" stroke="#000" stroke-width="1.2" fill="none" />
<line x1="845.5" y1="221" x2="845.5" y2="292.5" stroke="#000" stroke-width="1.2" />
<polyline points="809.5,272 792,272 792,316.2 883,316.2 883,272 858.5,272" stroke="#000" stroke-width="1.2" fill="none" />
<polyline points="809.5,272 809.5,292.5 883,292.5" stroke="#000" stroke-width="1.2" fill="none" />
<line x1="858.5" y1="272" x2="858.5" y2="292.5" stroke="#000" stroke-width="1.2" />
<line x1="813.5" y1="316.2" x2="813.5" y2="341.3" stroke="#000" stroke-width="1" />
<line x1="818.5" y1="316.2" x2="818.5" y2="341.3" stroke="#000" stroke-width="1" />
<ellipse cx="816" cy="341.3" rx="2.5" ry="1.4" fill="#fff" stroke="#000" stroke-width="0.9"/>
<line x1="835.5" y1="316.2" x2="835.5" y2="341.3" stroke="#000" stroke-width="1" />
<line x1="840.5" y1="316.2" x2="840.5" y2="341.3" stroke="#000" stroke-width="1" />
<ellipse cx="838" cy="341.3" rx="2.5" ry="1.4" fill="#fff" stroke="#000" stroke-width="0.9"/>
<line x1="856.5" y1="316.2" x2="856.5" y2="341.3" stroke="#000" stroke-width="1" />
<line x1="861.5" y1="316.2" x2="861.5" y2="341.3" stroke="#000" stroke-width="1" />
<ellipse cx="859" cy="341.3" rx="2.5" ry="1.4" fill="#fff" stroke="#000" stroke-width="0.9"/>
<line x1="769" y1="316.1" x2="786.9" y2="316.1" stroke="#000" stroke-width="1" />
<line x1="769" y1="342.3" x2="861.7" y2="342.3" stroke="#000" stroke-width="1" />
<line x1="777.4" y1="287.3" x2="777.4" y2="316.1" stroke="#000" stroke-width="1" />
<line x1="777.4" y1="342.3" x2="777.4" y2="372" stroke="#000" stroke-width="1" />
<polygon points="777.4,316.1 774.3,301.6 780.5,301.6" fill="#000"/>
<polygon points="777.4,342.3 780.5,356.8 774.3,356.8" fill="#000"/>
<line x1="813.5" y1="344.9" x2="813.5" y2="390.6" stroke="#000" stroke-width="1" />
<line x1="818.6" y1="344.9" x2="818.6" y2="390.6" stroke="#000" stroke-width="1" />
<line x1="785" y1="382.5" x2="871" y2="382.5" stroke="#000" stroke-width="1" />
<polygon points="813.5,382.5 799,385.5 799,379.5" fill="#000"/>
<polygon points="818.6,382.5 833.1,379.5 833.1,385.5" fill="#000"/>
<circle cx="830.6" cy="371.1" r="7.4" stroke="#000" stroke-width="0.9" fill="none"/>
<line x1="825.7" y1="380.4" x2="836.2" y2="360.9" stroke="#000" stroke-width="0.9" />
<polyline points="99,420.5 566.5,420.5 566.5,511.5 99,511.5 99,420" stroke="#000" stroke-width="1.2" fill="none" />
<path d="M98.7 436.9 H141.4 V429.6 Q141.6 427.7 143.9 427.7 H521.6 Q523.5 427.7 523.5 429.6 V436.9 H566.6" fill="none" stroke="#000" stroke-width="1.2"/>
<polyline points="143.9,427.7 143.9,473.3 152.5,473.3 152.5,499 513,499 513,473.4 521.9,473.4 521.9,427.7" stroke="#000" stroke-width="1.1" fill="none" />
<polyline points="150,486.9 150,503 515.8,503 515.8,486.9" stroke="#111" stroke-width="1.1" fill="none" />
<line x1="141.4" y1="486.9" x2="150" y2="486.9" stroke="#000" stroke-width="1.8" />
<line x1="141.4" y1="486.9" x2="141.4" y2="511.5" stroke="#000" stroke-width="1.2" />
<line x1="515.8" y1="486.9" x2="524.5" y2="486.9" stroke="#000" stroke-width="1.8" />
<line x1="524.5" y1="486.9" x2="524.5" y2="511.5" stroke="#000" stroke-width="1.2" />
<rect x="222" y="499.4" width="4.9" height="3.2" rx="0" stroke="#000" stroke-width="0.9" fill="none" />
<rect x="251.8" y="499.4" width="4.9" height="3.2" rx="0" stroke="#000" stroke-width="0.9" fill="none" />
<rect x="409.6" y="499.4" width="4.9" height="3.2" rx="0" stroke="#000" stroke-width="0.9" fill="none" />
<rect x="439.4" y="499.4" width="4.9" height="3.2" rx="0" stroke="#000" stroke-width="0.9" fill="none" />
<circle cx="170.7" cy="444.2" r="3.8" stroke="#000" stroke-width="2.35" fill="#fff"/>
<circle cx="192.3" cy="444.2" r="3.8" stroke="#000" stroke-width="2.35" fill="#fff"/>
<circle cx="213.9" cy="444.2" r="3.8" stroke="#000" stroke-width="2.35" fill="#fff"/>
<circle cx="235.5" cy="444.2" r="3.8" stroke="#000" stroke-width="2.35" fill="#fff"/>
<circle cx="257.1" cy="444.2" r="3.8" stroke="#000" stroke-width="2.35" fill="#fff"/>
<circle cx="278.7" cy="444.2" r="3.8" stroke="#000" stroke-width="2.35" fill="#fff"/>
<circle cx="300.3" cy="444.2" r="3.8" stroke="#000" stroke-width="2.35" fill="#fff"/>
<circle cx="321.9" cy="444.2" r="3.8" stroke="#000" stroke-width="2.35" fill="#fff"/>
<circle cx="343.5" cy="444.2" r="3.8" stroke="#000" stroke-width="2.35" fill="#fff"/>
<circle cx="365.1" cy="444.2" r="3.8" stroke="#000" stroke-width="2.35" fill="#fff"/>
<circle cx="386.7" cy="444.2" r="3.8" stroke="#000" stroke-width="2.35" fill="#fff"/>
<circle cx="408.3" cy="444.2" r="3.8" stroke="#000" stroke-width="2.35" fill="#fff"/>
<circle cx="429.9" cy="444.2" r="3.8" stroke="#000" stroke-width="2.35" fill="#fff"/>
<circle cx="451.5" cy="444.2" r="3.8" stroke="#000" stroke-width="2.35" fill="#fff"/>
<circle cx="473.1" cy="444.2" r="3.8" stroke="#000" stroke-width="2.35" fill="#fff"/>
<circle cx="494.7" cy="444.2" r="3.8" stroke="#000" stroke-width="2.35" fill="#fff"/>
<circle cx="170.7" cy="465.4" r="3.8" stroke="#000" stroke-width="2.35" fill="#fff"/>
<circle cx="192.3" cy="465.4" r="3.8" stroke="#000" stroke-width="2.35" fill="#fff"/>
<circle cx="213.9" cy="465.4" r="3.8" stroke="#000" stroke-width="2.35" fill="#fff"/>
<circle cx="235.5" cy="465.4" r="3.8" stroke="#000" stroke-width="2.35" fill="#fff"/>
<circle cx="257.1" cy="465.4" r="3.8" stroke="#000" stroke-width="2.35" fill="#fff"/>
<circle cx="278.7" cy="465.4" r="3.8" stroke="#000" stroke-width="2.35" fill="#fff"/>
<circle cx="300.3" cy="465.4" r="3.8" stroke="#000" stroke-width="2.35" fill="#fff"/>
<circle cx="321.9" cy="465.4" r="3.8" stroke="#000" stroke-width="2.35" fill="#fff"/>
<circle cx="343.5" cy="465.4" r="3.8" stroke="#000" stroke-width="2.35" fill="#fff"/>
<circle cx="365.1" cy="465.4" r="3.8" stroke="#000" stroke-width="2.35" fill="#fff"/>
<circle cx="386.7" cy="465.4" r="3.8" stroke="#000" stroke-width="2.35" fill="#fff"/>
<circle cx="408.3" cy="465.4" r="3.8" stroke="#000" stroke-width="2.35" fill="#fff"/>
<circle cx="429.9" cy="465.4" r="3.8" stroke="#000" stroke-width="2.35" fill="#fff"/>
<circle cx="451.5" cy="465.4" r="3.8" stroke="#000" stroke-width="2.35" fill="#fff"/>
<circle cx="473.1" cy="465.4" r="3.8" stroke="#000" stroke-width="2.35" fill="#fff"/>
<circle cx="494.7" cy="465.4" r="3.8" stroke="#000" stroke-width="2.35" fill="#fff"/>
<circle cx="170.7" cy="487.2" r="3.8" stroke="#000" stroke-width="2.35" fill="#fff"/>
<circle cx="192.3" cy="487.2" r="3.8" stroke="#000" stroke-width="2.35" fill="#fff"/>
<circle cx="213.9" cy="487.2" r="3.8" stroke="#000" stroke-width="2.35" fill="#fff"/>
<circle cx="235.5" cy="487.2" r="3.8" stroke="#000" stroke-width="2.35" fill="#fff"/>
<circle cx="257.1" cy="487.2" r="3.8" stroke="#000" stroke-width="2.35" fill="#fff"/>
<circle cx="278.7" cy="487.2" r="3.8" stroke="#000" stroke-width="2.35" fill="#fff"/>
<circle cx="300.3" cy="487.2" r="3.8" stroke="#000" stroke-width="2.35" fill="#fff"/>
<circle cx="321.9" cy="487.2" r="3.8" stroke="#000" stroke-width="2.35" fill="#fff"/>
<circle cx="343.5" cy="487.2" r="3.8" stroke="#000" stroke-width="2.35" fill="#fff"/>
<circle cx="365.1" cy="487.2" r="3.8" stroke="#000" stroke-width="2.35" fill="#fff"/>
<circle cx="386.7" cy="487.2" r="3.8" stroke="#000" stroke-width="2.35" fill="#fff"/>
<circle cx="408.3" cy="487.2" r="3.8" stroke="#000" stroke-width="2.35" fill="#fff"/>
<circle cx="429.9" cy="487.2" r="3.8" stroke="#000" stroke-width="2.35" fill="#fff"/>
<circle cx="451.5" cy="487.2" r="3.8" stroke="#000" stroke-width="2.35" fill="#fff"/>
<circle cx="473.1" cy="487.2" r="3.8" stroke="#000" stroke-width="2.35" fill="#fff"/>
<circle cx="494.7" cy="487.2" r="3.8" stroke="#000" stroke-width="2.35" fill="#fff"/>
<line x1="170.5" y1="424" x2="170.5" y2="507" stroke="#777" stroke-width="1" />
<line x1="192.5" y1="424" x2="192.5" y2="507" stroke="#000" stroke-width="1" />
<line x1="213.5" y1="424" x2="213.5" y2="507" stroke="#777" stroke-width="1" />
<line x1="235.5" y1="424" x2="235.5" y2="507" stroke="#000" stroke-width="1" />
<line x1="257.5" y1="424" x2="257.5" y2="507" stroke="#777" stroke-width="1" />
<line x1="278.5" y1="424" x2="278.5" y2="507" stroke="#777" stroke-width="1" />
<line x1="300.5" y1="424" x2="300.5" y2="507" stroke="#000" stroke-width="1" />
<line x1="321.5" y1="424" x2="321.5" y2="507" stroke="#000" stroke-width="1" />
<line x1="343.5" y1="424" x2="343.5" y2="507" stroke="#000" stroke-width="1" />
<line x1="365.5" y1="424" x2="365.5" y2="507" stroke="#000" stroke-width="1" />
<line x1="386.5" y1="424" x2="386.5" y2="507" stroke="#000" stroke-width="1" />
<line x1="408.5" y1="424" x2="408.5" y2="507" stroke="#000" stroke-width="1" />
<line x1="429.5" y1="424" x2="429.5" y2="507" stroke="#000" stroke-width="1" />
<line x1="451.5" y1="424" x2="451.5" y2="507" stroke="#000" stroke-width="1" />
<line x1="473.5" y1="424" x2="473.5" y2="507" stroke="#000" stroke-width="1" />
<line x1="494.5" y1="424" x2="494.5" y2="507" stroke="#000" stroke-width="1" />
<line x1="127" y1="444.5" x2="165.6" y2="444.5" stroke="#000" stroke-width="1" stroke-dasharray="9 3"/>
<line x1="175.6" y1="444.5" x2="187.2" y2="444.5" stroke="#000" stroke-width="1" />
<line x1="197.2" y1="444.5" x2="208.8" y2="444.5" stroke="#000" stroke-width="1" stroke-dasharray="8 3.6"/>
<line x1="218.8" y1="444.5" x2="230.4" y2="444.5" stroke="#000" stroke-width="1" />
<line x1="240.4" y1="444.5" x2="252" y2="444.5" stroke="#000" stroke-width="1" />
<line x1="262" y1="444.5" x2="273.6" y2="444.5" stroke="#000" stroke-width="1" stroke-dasharray="8 3.6"/>
<line x1="283.6" y1="444.5" x2="295.2" y2="444.5" stroke="#000" stroke-width="1" />
<line x1="305.2" y1="444.5" x2="316.8" y2="444.5" stroke="#000" stroke-width="1" />
<line x1="326.8" y1="444.5" x2="338.4" y2="444.5" stroke="#000" stroke-width="1" stroke-dasharray="8 3.6"/>
<line x1="348.4" y1="444.5" x2="360" y2="444.5" stroke="#000" stroke-width="1" />
<line x1="370" y1="444.5" x2="381.6" y2="444.5" stroke="#000" stroke-width="1" />
<line x1="391.6" y1="444.5" x2="403.2" y2="444.5" stroke="#000" stroke-width="1" stroke-dasharray="8 3.6"/>
<line x1="413.2" y1="444.5" x2="424.8" y2="444.5" stroke="#000" stroke-width="1" />
<line x1="434.8" y1="444.5" x2="446.4" y2="444.5" stroke="#000" stroke-width="1" />
<line x1="456.4" y1="444.5" x2="468" y2="444.5" stroke="#000" stroke-width="1" stroke-dasharray="8 3.6"/>
<line x1="478" y1="444.5" x2="489.6" y2="444.5" stroke="#000" stroke-width="1" />
<line x1="499.6" y1="444.5" x2="515.4" y2="444.5" stroke="#000" stroke-width="1" />
<line x1="167.8" y1="444.5" x2="173.4" y2="444.5" stroke="#000" stroke-width="1" />
<line x1="189.4" y1="444.5" x2="195" y2="444.5" stroke="#000" stroke-width="1" />
<line x1="211" y1="444.5" x2="216.6" y2="444.5" stroke="#000" stroke-width="1" />
<line x1="232.6" y1="444.5" x2="238.2" y2="444.5" stroke="#000" stroke-width="1" />
<line x1="254.2" y1="444.5" x2="259.8" y2="444.5" stroke="#000" stroke-width="1" />
<line x1="275.8" y1="444.5" x2="281.4" y2="444.5" stroke="#000" stroke-width="1" />
<line x1="297.4" y1="444.5" x2="303" y2="444.5" stroke="#000" stroke-width="1" />
<line x1="319" y1="444.5" x2="324.6" y2="444.5" stroke="#000" stroke-width="1" />
<line x1="340.6" y1="444.5" x2="346.2" y2="444.5" stroke="#000" stroke-width="1" />
<line x1="362.2" y1="444.5" x2="367.8" y2="444.5" stroke="#000" stroke-width="1" />
<line x1="383.8" y1="444.5" x2="389.4" y2="444.5" stroke="#000" stroke-width="1" />
<line x1="405.4" y1="444.5" x2="411" y2="444.5" stroke="#000" stroke-width="1" />
<line x1="427" y1="444.5" x2="432.6" y2="444.5" stroke="#000" stroke-width="1" />
<line x1="448.6" y1="444.5" x2="454.2" y2="444.5" stroke="#000" stroke-width="1" />
<line x1="470.2" y1="444.5" x2="475.8" y2="444.5" stroke="#000" stroke-width="1" />
<line x1="491.8" y1="444.5" x2="497.4" y2="444.5" stroke="#000" stroke-width="1" />
<line x1="127" y1="465.5" x2="165.6" y2="465.5" stroke="#000" stroke-width="1" stroke-dasharray="9 3"/>
<line x1="175.6" y1="465.5" x2="187.2" y2="465.5" stroke="#000" stroke-width="1" />
<line x1="197.2" y1="465.5" x2="208.8" y2="465.5" stroke="#000" stroke-width="1" stroke-dasharray="8 3.6"/>
<line x1="218.8" y1="465.5" x2="230.4" y2="465.5" stroke="#000" stroke-width="1" />
<line x1="240.4" y1="465.5" x2="252" y2="465.5" stroke="#000" stroke-width="1" />
<line x1="262" y1="465.5" x2="273.6" y2="465.5" stroke="#000" stroke-width="1" stroke-dasharray="8 3.6"/>
<line x1="283.6" y1="465.5" x2="295.2" y2="465.5" stroke="#000" stroke-width="1" />
<line x1="305.2" y1="465.5" x2="316.8" y2="465.5" stroke="#000" stroke-width="1" />
<line x1="326.8" y1="465.5" x2="338.4" y2="465.5" stroke="#000" stroke-width="1" stroke-dasharray="8 3.6"/>
<line x1="348.4" y1="465.5" x2="360" y2="465.5" stroke="#000" stroke-width="1" />
<line x1="370" y1="465.5" x2="381.6" y2="465.5" stroke="#000" stroke-width="1" />
<line x1="391.6" y1="465.5" x2="403.2" y2="465.5" stroke="#000" stroke-width="1" stroke-dasharray="8 3.6"/>
<line x1="413.2" y1="465.5" x2="424.8" y2="465.5" stroke="#000" stroke-width="1" />
<line x1="434.8" y1="465.5" x2="446.4" y2="465.5" stroke="#000" stroke-width="1" />
<line x1="456.4" y1="465.5" x2="468" y2="465.5" stroke="#000" stroke-width="1" stroke-dasharray="8 3.6"/>
<line x1="478" y1="465.5" x2="489.6" y2="465.5" stroke="#000" stroke-width="1" />
<line x1="499.6" y1="465.5" x2="515.4" y2="465.5" stroke="#000" stroke-width="1" />
<line x1="167.8" y1="465.5" x2="173.4" y2="465.5" stroke="#000" stroke-width="1" />
<line x1="189.4" y1="465.5" x2="195" y2="465.5" stroke="#000" stroke-width="1" />
<line x1="211" y1="465.5" x2="216.6" y2="465.5" stroke="#000" stroke-width="1" />
<line x1="232.6" y1="465.5" x2="238.2" y2="465.5" stroke="#000" stroke-width="1" />
<line x1="254.2" y1="465.5" x2="259.8" y2="465.5" stroke="#000" stroke-width="1" />
<line x1="275.8" y1="465.5" x2="281.4" y2="465.5" stroke="#000" stroke-width="1" />
<line x1="297.4" y1="465.5" x2="303" y2="465.5" stroke="#000" stroke-width="1" />
<line x1="319" y1="465.5" x2="324.6" y2="465.5" stroke="#000" stroke-width="1" />
<line x1="340.6" y1="465.5" x2="346.2" y2="465.5" stroke="#000" stroke-width="1" />
<line x1="362.2" y1="465.5" x2="367.8" y2="465.5" stroke="#000" stroke-width="1" />
<line x1="383.8" y1="465.5" x2="389.4" y2="465.5" stroke="#000" stroke-width="1" />
<line x1="405.4" y1="465.5" x2="411" y2="465.5" stroke="#000" stroke-width="1" />
<line x1="427" y1="465.5" x2="432.6" y2="465.5" stroke="#000" stroke-width="1" />
<line x1="448.6" y1="465.5" x2="454.2" y2="465.5" stroke="#000" stroke-width="1" />
<line x1="470.2" y1="465.5" x2="475.8" y2="465.5" stroke="#000" stroke-width="1" />
<line x1="491.8" y1="465.5" x2="497.4" y2="465.5" stroke="#000" stroke-width="1" />
<line x1="127" y1="487.5" x2="165.6" y2="487.5" stroke="#000" stroke-width="1" stroke-dasharray="9 3"/>
<line x1="175.6" y1="487.5" x2="187.2" y2="487.5" stroke="#000" stroke-width="1" />
<line x1="197.2" y1="487.5" x2="208.8" y2="487.5" stroke="#000" stroke-width="1" stroke-dasharray="8 3.6"/>
<line x1="218.8" y1="487.5" x2="230.4" y2="487.5" stroke="#000" stroke-width="1" />
<line x1="240.4" y1="487.5" x2="252" y2="487.5" stroke="#000" stroke-width="1" />
<line x1="262" y1="487.5" x2="273.6" y2="487.5" stroke="#000" stroke-width="1" stroke-dasharray="8 3.6"/>
<line x1="283.6" y1="487.5" x2="295.2" y2="487.5" stroke="#000" stroke-width="1" />
<line x1="305.2" y1="487.5" x2="316.8" y2="487.5" stroke="#000" stroke-width="1" />
<line x1="326.8" y1="487.5" x2="338.4" y2="487.5" stroke="#000" stroke-width="1" stroke-dasharray="8 3.6"/>
<line x1="348.4" y1="487.5" x2="360" y2="487.5" stroke="#000" stroke-width="1" />
<line x1="370" y1="487.5" x2="381.6" y2="487.5" stroke="#000" stroke-width="1" />
<line x1="391.6" y1="487.5" x2="403.2" y2="487.5" stroke="#000" stroke-width="1" stroke-dasharray="8 3.6"/>
<line x1="413.2" y1="487.5" x2="424.8" y2="487.5" stroke="#000" stroke-width="1" />
<line x1="434.8" y1="487.5" x2="446.4" y2="487.5" stroke="#000" stroke-width="1" />
<line x1="456.4" y1="487.5" x2="468" y2="487.5" stroke="#000" stroke-width="1" stroke-dasharray="8 3.6"/>
<line x1="478" y1="487.5" x2="489.6" y2="487.5" stroke="#000" stroke-width="1" />
<line x1="499.6" y1="487.5" x2="515.4" y2="487.5" stroke="#000" stroke-width="1" />
<line x1="167.8" y1="487.5" x2="173.4" y2="487.5" stroke="#000" stroke-width="1" />
<line x1="189.4" y1="487.5" x2="195" y2="487.5" stroke="#000" stroke-width="1" />
<line x1="211" y1="487.5" x2="216.6" y2="487.5" stroke="#000" stroke-width="1" />
<line x1="232.6" y1="487.5" x2="238.2" y2="487.5" stroke="#000" stroke-width="1" />
<line x1="254.2" y1="487.5" x2="259.8" y2="487.5" stroke="#000" stroke-width="1" />
<line x1="275.8" y1="487.5" x2="281.4" y2="487.5" stroke="#000" stroke-width="1" />
<line x1="297.4" y1="487.5" x2="303" y2="487.5" stroke="#000" stroke-width="1" />
<line x1="319" y1="487.5" x2="324.6" y2="487.5" stroke="#000" stroke-width="1" />
<line x1="340.6" y1="487.5" x2="346.2" y2="487.5" stroke="#000" stroke-width="1" />
<line x1="362.2" y1="487.5" x2="367.8" y2="487.5" stroke="#000" stroke-width="1" />
<line x1="383.8" y1="487.5" x2="389.4" y2="487.5" stroke="#000" stroke-width="1" />
<line x1="405.4" y1="487.5" x2="411" y2="487.5" stroke="#000" stroke-width="1" />
<line x1="427" y1="487.5" x2="432.6" y2="487.5" stroke="#000" stroke-width="1" />
<line x1="448.6" y1="487.5" x2="454.2" y2="487.5" stroke="#000" stroke-width="1" />
<line x1="470.2" y1="487.5" x2="475.8" y2="487.5" stroke="#000" stroke-width="1" />
<line x1="491.8" y1="487.5" x2="497.4" y2="487.5" stroke="#000" stroke-width="1" />
<circle cx="120.4" cy="463.2" r="12.4" stroke="#000" stroke-width="1.1" fill="none"/>
<circle cx="545.5" cy="463.2" r="12.4" stroke="#000" stroke-width="1.1" fill="none"/>
<line x1="95.9" y1="463.5" x2="143.8" y2="463.5" stroke="#000" stroke-width="1" />
<line x1="522" y1="463.5" x2="543.6" y2="463.5" stroke="#000" stroke-width="1" />
<line x1="544.6" y1="463.5" x2="546.4" y2="463.5" stroke="#000" stroke-width="1" />
<line x1="553" y1="463.5" x2="569.9" y2="463.5" stroke="#000" stroke-width="1" />
<line x1="521.9" y1="465.5" x2="607.8" y2="465.5" stroke="#000" stroke-width="1" />
<line x1="120.4" y1="439" x2="120.4" y2="458" stroke="#444" stroke-width="1" />
<line x1="120.4" y1="461" x2="120.4" y2="466" stroke="#444" stroke-width="1" />
<line x1="120.4" y1="469" x2="120.4" y2="488" stroke="#444" stroke-width="1" />
<line x1="120.4" y1="491" x2="120.4" y2="591" stroke="#333" stroke-width="1" />
<line x1="545.5" y1="439" x2="545.5" y2="456.1" stroke="#000" stroke-width="1" />
<line x1="545.5" y1="460.5" x2="545.5" y2="465.2" stroke="#000" stroke-width="1" />
<line x1="545.5" y1="471.3" x2="545.5" y2="487.8" stroke="#000" stroke-width="1" />
<line x1="545.5" y1="492.5" x2="545.5" y2="591" stroke="#000" stroke-width="1" />
<line x1="70.3" y1="444.3" x2="127" y2="444.3" stroke="#000" stroke-width="1" />
<line x1="45.4" y1="465.6" x2="127" y2="465.6" stroke="#000" stroke-width="1" />
<line x1="45.4" y1="487.4" x2="127" y2="487.4" stroke="#000" stroke-width="1" />
<line x1="78.6" y1="394.5" x2="78.6" y2="493.6" stroke="#000" stroke-width="1" />
<polygon points="78.6,444.3 75.6,429.8 81.6,429.8" fill="#000"/>
<polygon points="78.6,465.6 81.6,480.1 75.6,480.1" fill="#000"/>
<line x1="54.4" y1="437.6" x2="54.4" y2="544.3" stroke="#000" stroke-width="1" />
<polygon points="54.4,465.6 51.4,451.1 57.4,451.1" fill="#000"/>
<polygon points="54.4,487.4 57.4,501.9 51.4,501.9" fill="#000"/>
<line x1="170.4" y1="512.6" x2="170.4" y2="567" stroke="#444" stroke-width="1" />
<line x1="192.2" y1="512.6" x2="192.2" y2="547.5" stroke="#000" stroke-width="1" />
<line x1="142.2" y1="539.2" x2="238.5" y2="539.2" stroke="#000" stroke-width="1" />
<polygon points="170.4,539.2 155.9,542 155.9,536.4" fill="#000"/>
<polygon points="192.2,539.2 206.7,536.4 206.7,542" fill="#000"/>
<line x1="170.4" y1="558.5" x2="494.6" y2="558.5" stroke="#000" stroke-width="1" />
<polygon points="170.4,558.5 184.9,555.7 184.9,561.3" fill="#000"/>
<polygon points="494.6,558.5 480.1,561.3 480.1,555.7" fill="#000"/>
<line x1="494.6" y1="511.4" x2="494.6" y2="567.7" stroke="#000" stroke-width="1" />
<line x1="120.4" y1="587.3" x2="545.4" y2="587.3" stroke="#000" stroke-width="1" />
<polygon points="120.4,587.3 134.9,584.5 134.9,590.1" fill="#000"/>
<polygon points="545.4,587.3 530.9,590.1 530.9,584.5" fill="#000"/>
<line x1="533.4" y1="396.1" x2="533.4" y2="452.5" stroke="#000" stroke-width="1" />
<line x1="557.6" y1="396.1" x2="557.6" y2="456" stroke="#000" stroke-width="1" />
<line x1="504.3" y1="405.4" x2="625.8" y2="405.4" stroke="#000" stroke-width="1" />
<polygon points="533.4,405.4 518.9,408.2 518.9,402.6" fill="#000"/>
<polygon points="557.6,405.4 572.1,402.6 572.1,408.2" fill="#000"/>
<circle cx="585.4" cy="394.1" r="7.5" stroke="#000" stroke-width="0.9" fill="none"/>
<line x1="579.6" y1="404.2" x2="591.4" y2="383.8" stroke="#000" stroke-width="0.9" />
<line x1="574.2" y1="463.5" x2="607.8" y2="463.5" stroke="#000" stroke-width="1" />
<line x1="598.9" y1="435" x2="598.9" y2="495.6" stroke="#000" stroke-width="1" />
<polygon points="598.9,463.3 595.9,448.8 601.9,448.8" fill="#000"/>
<polygon points="598.9,465.7 601.9,480.2 595.9,480.2" fill="#000"/>
<line x1="733.5" y1="504.3" x2="733.5" y2="559.8" stroke="#000" stroke-width="1" />
<line x1="747.93" y1="504.3" x2="747.93" y2="559.8" stroke="#000" stroke-width="1" />
<line x1="762.36" y1="504.3" x2="762.36" y2="559.8" stroke="#000" stroke-width="1" />
<line x1="776.79" y1="504.3" x2="776.79" y2="559.8" stroke="#000" stroke-width="1" />
<line x1="791.22" y1="504.3" x2="791.22" y2="559.8" stroke="#000" stroke-width="1" />
<line x1="805.65" y1="504.3" x2="805.65" y2="559.8" stroke="#000" stroke-width="1" />
<line x1="820.08" y1="504.3" x2="820.08" y2="559.8" stroke="#000" stroke-width="1" />
<line x1="834.51" y1="504.3" x2="834.51" y2="559.8" stroke="#000" stroke-width="1" />
<line x1="848.94" y1="504.3" x2="848.94" y2="559.8" stroke="#000" stroke-width="1" />
<line x1="863.37" y1="504.3" x2="863.37" y2="559.8" stroke="#000" stroke-width="1" />
<line x1="877.8" y1="504.3" x2="877.8" y2="559.8" stroke="#000" stroke-width="1" />
<line x1="892.23" y1="504.3" x2="892.23" y2="559.8" stroke="#000" stroke-width="1" />
<line x1="906.66" y1="504.3" x2="906.66" y2="559.8" stroke="#000" stroke-width="1" />
<line x1="921.09" y1="504.3" x2="921.09" y2="559.8" stroke="#000" stroke-width="1" />
<line x1="935.52" y1="504.3" x2="935.52" y2="559.8" stroke="#000" stroke-width="1" />
<line x1="949.95" y1="504.3" x2="949.95" y2="559.8" stroke="#000" stroke-width="1" />
<line x1="719.8" y1="517.7" x2="963.3" y2="517.7" stroke="#666" stroke-width="1" />
<line x1="719.8" y1="532.5" x2="963.3" y2="532.5" stroke="#000" stroke-width="1" />
<line x1="719.8" y1="546.3" x2="963.3" y2="546.3" stroke="#666" stroke-width="1" />
<circle cx="733.5" cy="517.6" r="2.35" stroke="#000" stroke-width="1.1" fill="#666"/>
<circle cx="747.93" cy="517.6" r="2.35" stroke="#000" stroke-width="1.1" fill="#666"/>
<circle cx="762.36" cy="517.6" r="2.35" stroke="#000" stroke-width="1.1" fill="#666"/>
<circle cx="776.79" cy="517.6" r="2.35" stroke="#000" stroke-width="1.1" fill="#666"/>
<circle cx="791.22" cy="517.6" r="2.35" stroke="#000" stroke-width="1.1" fill="#666"/>
<circle cx="805.65" cy="517.6" r="2.35" stroke="#000" stroke-width="1.1" fill="#666"/>
<circle cx="820.08" cy="517.6" r="2.35" stroke="#000" stroke-width="1.1" fill="#666"/>
<circle cx="834.51" cy="517.6" r="2.35" stroke="#000" stroke-width="1.1" fill="#666"/>
<circle cx="848.94" cy="517.6" r="2.35" stroke="#000" stroke-width="1.1" fill="#666"/>
<circle cx="863.37" cy="517.6" r="2.35" stroke="#000" stroke-width="1.1" fill="#666"/>
<circle cx="877.8" cy="517.6" r="2.35" stroke="#000" stroke-width="1.1" fill="#666"/>
<circle cx="892.23" cy="517.6" r="2.35" stroke="#000" stroke-width="1.1" fill="#666"/>
<circle cx="906.66" cy="517.6" r="2.35" stroke="#000" stroke-width="1.1" fill="#666"/>
<circle cx="921.09" cy="517.6" r="2.35" stroke="#000" stroke-width="1.1" fill="#666"/>
<circle cx="935.52" cy="517.6" r="2.35" stroke="#000" stroke-width="1.1" fill="#666"/>
<circle cx="949.95" cy="517.6" r="2.35" stroke="#000" stroke-width="1.1" fill="#666"/>
<circle cx="733.5" cy="532.1" r="2.35" stroke="#000" stroke-width="1.1" fill="#666"/>
<circle cx="747.93" cy="532.1" r="2.35" stroke="#000" stroke-width="1.1" fill="#666"/>
<circle cx="762.36" cy="532.1" r="2.35" stroke="#000" stroke-width="1.1" fill="#666"/>
<circle cx="776.79" cy="532.1" r="2.35" stroke="#000" stroke-width="1.1" fill="#666"/>
<circle cx="791.22" cy="532.1" r="2.35" stroke="#000" stroke-width="1.1" fill="#666"/>
<circle cx="805.65" cy="532.1" r="2.35" stroke="#000" stroke-width="1.1" fill="#666"/>
<circle cx="820.08" cy="532.1" r="2.35" stroke="#000" stroke-width="1.1" fill="#666"/>
<circle cx="834.51" cy="532.1" r="2.35" stroke="#000" stroke-width="1.1" fill="#666"/>
<circle cx="848.94" cy="532.1" r="2.35" stroke="#000" stroke-width="1.1" fill="#666"/>
<circle cx="863.37" cy="532.1" r="2.35" stroke="#000" stroke-width="1.1" fill="#666"/>
<circle cx="877.8" cy="532.1" r="2.35" stroke="#000" stroke-width="1.1" fill="#666"/>
<circle cx="892.23" cy="532.1" r="2.35" stroke="#000" stroke-width="1.1" fill="#666"/>
<circle cx="906.66" cy="532.1" r="2.35" stroke="#000" stroke-width="1.1" fill="#666"/>
<circle cx="921.09" cy="532.1" r="2.35" stroke="#000" stroke-width="1.1" fill="#666"/>
<circle cx="935.52" cy="532.1" r="2.35" stroke="#000" stroke-width="1.1" fill="#666"/>
<circle cx="949.95" cy="532.1" r="2.35" stroke="#000" stroke-width="1.1" fill="#666"/>
<circle cx="733.5" cy="546.3" r="2.35" stroke="#000" stroke-width="1.1" fill="#666"/>
<circle cx="747.93" cy="546.3" r="2.35" stroke="#000" stroke-width="1.1" fill="#666"/>
<circle cx="762.36" cy="546.3" r="2.35" stroke="#000" stroke-width="1.1" fill="#666"/>
<circle cx="776.79" cy="546.3" r="2.35" stroke="#000" stroke-width="1.1" fill="#666"/>
<circle cx="791.22" cy="546.3" r="2.35" stroke="#000" stroke-width="1.1" fill="#666"/>
<circle cx="805.65" cy="546.3" r="2.35" stroke="#000" stroke-width="1.1" fill="#666"/>
<circle cx="820.08" cy="546.3" r="2.35" stroke="#000" stroke-width="1.1" fill="#666"/>
<circle cx="834.51" cy="546.3" r="2.35" stroke="#000" stroke-width="1.1" fill="#666"/>
<circle cx="848.94" cy="546.3" r="2.35" stroke="#000" stroke-width="1.1" fill="#666"/>
<circle cx="863.37" cy="546.3" r="2.35" stroke="#000" stroke-width="1.1" fill="#666"/>
<circle cx="877.8" cy="546.3" r="2.35" stroke="#000" stroke-width="1.1" fill="#666"/>
<circle cx="892.23" cy="546.3" r="2.35" stroke="#000" stroke-width="1.1" fill="#666"/>
<circle cx="906.66" cy="546.3" r="2.35" stroke="#000" stroke-width="1.1" fill="#666"/>
<circle cx="921.09" cy="546.3" r="2.35" stroke="#000" stroke-width="1.1" fill="#666"/>
<circle cx="935.52" cy="546.3" r="2.35" stroke="#000" stroke-width="1.1" fill="#666"/>
<circle cx="949.95" cy="546.3" r="2.35" stroke="#000" stroke-width="1.1" fill="#666"/>
<line x1="841" y1="521.2" x2="841" y2="543.4" stroke="#000" stroke-width="1.2" />
<line x1="733.4" y1="452.3" x2="733.4" y2="498.2" stroke="#000" stroke-width="1" />
<line x1="949.8" y1="452.3" x2="949.8" y2="498.2" stroke="#000" stroke-width="1" />
<line x1="747.9" y1="479.6" x2="747.9" y2="498.2" stroke="#777" stroke-width="1" />
<line x1="733.4" y1="460.8" x2="949.8" y2="460.8" stroke="#777" stroke-width="1" />
<polygon points="733.4,460.8 747.9,458 747.9,463.6" fill="#000"/>
<polygon points="949.8,460.8 935.3,463.6 935.3,458" fill="#000"/>
<line x1="705" y1="487.2" x2="800.7" y2="487.2" stroke="#555" stroke-width="1" />
<polygon points="733.4,487.2 718.9,490 718.9,484.4" fill="#000"/>
<polygon points="747.9,487.2 762.4,484.4 762.4,490" fill="#000"/>
<line x1="969.1" y1="517.5" x2="983.5" y2="517.5" stroke="#888" stroke-width="1" />
<line x1="969.1" y1="532.5" x2="1021.2" y2="532.5" stroke="#000" stroke-width="1" />
<line x1="969.1" y1="546.4" x2="1021.2" y2="546.4" stroke="#555" stroke-width="1" />
<line x1="975.6" y1="463" x2="975.6" y2="560.3" stroke="#000" stroke-width="1" />
<polygon points="975.6,517.5 972.6,503 978.6,503" fill="#000"/>
<polygon points="975.6,532.5 978.6,547 972.6,547" fill="#000"/>
<line x1="1012.5" y1="481.3" x2="1012.5" y2="575.4" stroke="#000" stroke-width="1" />
<polygon points="1012.5,532.3 1009.5,517.8 1015.5,517.8" fill="#000"/>
<polygon points="1012.5,546.4 1015.5,560.9 1009.5,560.9" fill="#000"/>
<line x1="675.8" y1="583.4" x2="742.7" y2="583.4" stroke="#000" stroke-width="1" />
<line x1="742.7" y1="583.4" x2="776.7" y2="517.5" stroke="#000" stroke-width="1" />
<polygon points="762.3,546.2 758.04,560.89 752.72,558.12" fill="#000"/>
<polygon points="762.3,546.2 766.56,531.51 771.88,534.28" fill="#000"/>
<circle cx="691.4" cy="572.7" r="7.3" stroke="#000" stroke-width="0.9" fill="none"/>
<line x1="685.2" y1="583" x2="696.8" y2="562.4" stroke="#000" stroke-width="0.9" />
<text transform="translate(142.94 85.24) scale(0.7949 1)" font-size="16.74" font-weight="normal" stroke="#000" stroke-width="0.7">16</text>
<text transform="translate(142.94 106.79) scale(0.7949 1)" font-size="16.74" font-weight="normal" stroke="#000" stroke-width="0.7">16</text>
<text transform="translate(142.94 128.39) scale(0.7949 1)" font-size="16.74" font-weight="normal" stroke="#000" stroke-width="0.7">16</text>
<text transform="translate(505.96 73.25) rotate(90) scale(0.7664 1)" font-size="16.77" font-weight="normal" stroke="#000" stroke-width="0.7">c1</text>
<text transform="translate(505.96 94.55) rotate(90) scale(0.7791 1)" font-size="15.93" font-weight="normal" stroke="#000" stroke-width="0.7">b1</text>
<text transform="translate(505.96 116.43) rotate(90) scale(0.7243 1)" font-size="16.77" font-weight="normal" stroke="#000" stroke-width="0.7">a1</text>
<text transform="translate(321.48 17.6) scale(1.0191 1)" font-size="20.00" font-weight="normal" stroke="#000" stroke-width="0.4">55</text>
<text transform="translate(606.5 120.47) rotate(-90) scale(1.0303 1)" font-size="20.00" font-weight="normal" stroke="#000" stroke-width="0.4">10.7</text>
<text transform="translate(32.4 288.66) rotate(-90) scale(1.0248 1)" font-size="20.00" font-weight="normal" stroke="#000" stroke-width="0.4">11.2</text>
<text transform="translate(66.3 252.31) rotate(-90) scale(1.0944 1)" font-size="20.00" font-weight="normal" stroke="#000" stroke-width="0.4">6</text>
<text x="287.6" y="300.6" font-size="23.3" letter-spacing="0.7" style="font-family:'Liberation Sans','Noto Sans CJK SC',sans-serif" fill="#000">标记处</text>
<text transform="translate(562.43 200.3) scale(0.7000 1)" font-size="20.00" font-weight="normal" stroke="#000" stroke-width="0.4">1</text>
<text transform="translate(559.95 234.7) scale(1.0427 1)" font-size="20.00" font-weight="normal" stroke="#000" stroke-width="0.4">2</text>
<text transform="translate(594.34 280.1) scale(0.9913 1)" font-size="20.00" font-weight="normal" stroke="#000" stroke-width="0.4">3</text>
<text transform="translate(774.6 334.5) rotate(-90) scale(0.9175 1)" font-size="20.00" font-weight="normal" stroke="#000" stroke-width="0.4">3</text>
<text transform="translate(841.65 379.29) scale(0.9993 1)" font-size="21.47" font-weight="bold" stroke="#000" stroke-width="0.2">0.6</text>
<text transform="translate(75 433.82) rotate(-90) scale(1.0125 1)" font-size="20.00" font-weight="normal" stroke="#000" stroke-width="0.4">2.54</text>
<text transform="translate(50.4 545.45) rotate(-90) scale(1.0446 1)" font-size="20.00" font-weight="normal" stroke="#000" stroke-width="0.4">2.54</text>
<text transform="translate(198.45 535.5) scale(1.0393 1)" font-size="20.00" font-weight="normal" stroke="#000" stroke-width="0.4">2.54</text>
<text transform="translate(263.55 554.9) scale(0.9506 1)" font-size="20.00" font-weight="normal" stroke="#000" stroke-width="0.4">15</text>
<text transform="translate(304.56 554.9) scale(1.0312 1)" font-size="20.00" font-weight="normal" stroke="#000" stroke-width="0.4">2.54</text>
<text transform="translate(363.88 554.9) scale(0.9466 1)" font-size="20.00" font-weight="normal" stroke="#000" stroke-width="0.4">38.1</text>
<text transform="translate(287.36 557.46) scale(1.0180 1)" font-size="26.00" font-weight="normal" stroke="#000" stroke-width="0.2">×</text>
<text transform="translate(347.09 555.8) scale(1.2864 1)" font-size="20.00" font-weight="normal" stroke="#000" stroke-width="0.3">=</text>
<text transform="translate(321.65 583.7) scale(1.0598 1)" font-size="20.00" font-weight="normal" stroke="#000" stroke-width="0.4">50</text>
<text transform="translate(561.24 401.8) scale(0.9233 1)" font-size="20.48" font-weight="bold" >2-</text>
<text transform="translate(596.26 401.6) scale(1.0627 1)" font-size="20.06" font-weight="bold" stroke="#000" stroke-width="0.2">2.9</text>
<text transform="translate(595.8 494.75) rotate(-90) scale(0.9563 1)" font-size="20.00" font-weight="normal" stroke="#000" stroke-width="0.4">0.3</text>
<text x="776" y="427.6" font-size="23" letter-spacing="0.12" style="font-family:'Liberation Sans','Noto Sans CJK SC',sans-serif" fill="#000">安装开孔尺寸</text>
<text transform="translate(772.55 457.6) scale(0.9506 1)" font-size="20.00" font-weight="normal" stroke="#000" stroke-width="0.4">15</text>
<text transform="translate(813.56 457.6) scale(1.0312 1)" font-size="20.00" font-weight="normal" stroke="#000" stroke-width="0.4">2.54</text>
<text transform="translate(872.88 457.6) scale(0.9466 1)" font-size="20.00" font-weight="normal" stroke="#000" stroke-width="0.4">38.1</text>
<text transform="translate(796.36 460.16) scale(1.0180 1)" font-size="26.00" font-weight="normal" stroke="#000" stroke-width="0.2">×</text>
<text transform="translate(856.09 458.5) scale(1.2864 1)" font-size="20.00" font-weight="normal" stroke="#000" stroke-width="0.3">=</text>
<text transform="translate(761.08 483.5) scale(1.0152 1)" font-size="20.00" font-weight="normal" stroke="#000" stroke-width="0.4">2.54</text>
<text transform="translate(972.4 502.42) rotate(-90) scale(1.0125 1)" font-size="20.00" font-weight="normal" stroke="#000" stroke-width="0.4">2.54</text>
<text transform="translate(1009.2 520.63) rotate(-90) scale(1.0205 1)" font-size="20.00" font-weight="normal" stroke="#000" stroke-width="0.4">2.54</text>
<text transform="translate(702.25 580.49) scale(1.0018 1)" font-size="21.33" font-weight="bold" stroke="#000" stroke-width="0.2">0.8</text>
</svg>
</body></html>
